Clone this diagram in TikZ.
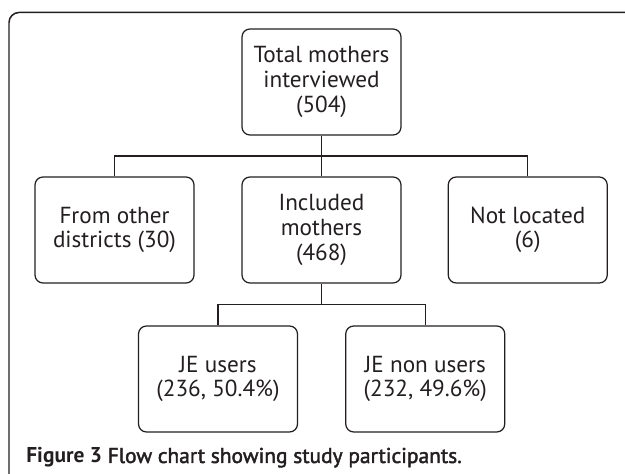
\documentclass[tikz,border=0pt]{standalone}
\usepackage{fontspec}
\setmainfont{PT Sans}
\newfontfamily\capfont[FakeBold=2]{PT Sans}
\usetikzlibrary{calc}
\definecolor{ink}{HTML}{231F20}
\tikzset{
	stagebox/.style={draw=ink, line width=0.7pt, rounded corners=0.16cm, fill=white,
		minimum width=3.18cm, minimum height=2.12cm, inner sep=0pt, align=center,
		text=ink, font=\fontsize{13.2}{14}\selectfont},
	link/.style={draw=ink, line width=0.7pt},
}

\begin{document}
\begin{tikzpicture}
			%%%%% START %%%%%
			\useasboundingbox (0, 0) rectangle (12.5, 9.48);
			\clip (0, 0) rectangle (12.5, 9.48);
			
			% outer frame, runs off the page at right and bottom
			\draw[ink, line width=0.85pt, rounded corners=0.2cm] (0.18, -0.5) -- (0.18, 9.23) -- (13, 9.23);
			
			\node[stagebox] (total) at (6.43, 7.84) {Total mothers\\interviewed\\(504)};
			
			\node[stagebox] (other) at (2.29, 4.88) {From other\\districts (30)};
			\node[stagebox] (incl) at (6.43, 4.88) {Included\\mothers\\(468)};
			\node[stagebox] (notloc) at (10.555, 4.88) {Not located\\(6)};
			
			\node[stagebox] (users) at (4.36, 1.9) {JE users\\(236, 50.4\%)};
			\node[stagebox] (nonusers) at (8.505, 1.9) {JE non users\\(232, 49.6\%)};
			
			\coordinate (bar1) at ($(total.south)!0.5!(incl.north)$);
			\coordinate (bar2) at ($(incl.south)!0.5!(incl.south |- users.north)$);
			
			\draw[link] (total.south) -- (incl.north);
			\draw[link] (other.north) |- (bar1) -| (notloc.north);
			\draw[link] (incl.south) -- (bar2);
			\draw[link] (users.north) |- (bar2) -| (nonusers.north);
			
			\node[anchor=base west, inner sep=0pt, text=ink, font=\fontsize{12.2}{13}\selectfont] (caption) at (0.52, 0.22)
				{\textbf{Figure 3} {\capfont Flow chart showing study participants.}};
			%%%%% END %%%%%
\end{tikzpicture}
\end{document}
